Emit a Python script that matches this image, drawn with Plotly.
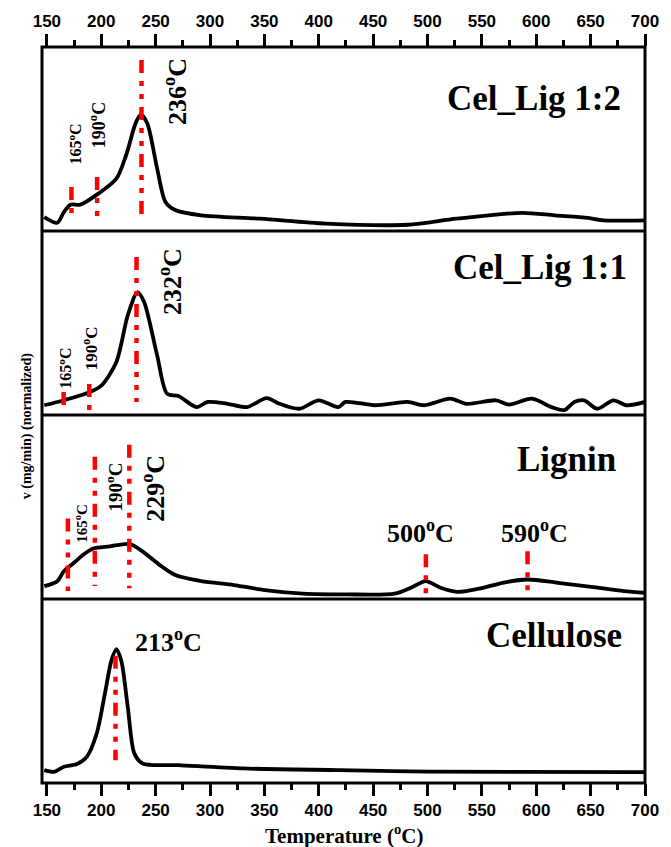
import plotly.graph_objects as go

# ---------------- data (normalized rate, each panel 0..1) ----------------
t_1_2 = [147.6, 159.6, 165.6, 171.7, 180.7, 197.3, 213.9, 222.9, 232.0, 236.6, 242.4, 251.4,
         259.0, 268.0, 292.0, 346.0, 406.5, 481.5, 526.7, 587.0, 617.0, 647.5, 662.0, 700.0]
v_1_2 = [0.076, 0.045, 0.103, 0.143, 0.143, 0.203, 0.284, 0.413, 0.592, 0.632, 0.583, 0.339,
         0.158, 0.114, 0.085, 0.067, 0.040, 0.034, 0.067, 0.099, 0.085, 0.071, 0.058, 0.058]

t_1_1 = [147.6, 165.6, 189.7, 200.3, 213.9, 224.4, 233.4, 239.4, 251.4, 260.5, 271.0, 287.6,
         298.0, 316.0, 334.0, 352.0, 364.0, 382.0, 400.0, 418.0, 424.6, 451.7, 481.5, 497.0,
         521.0, 536.0, 563.0, 575.0, 596.0, 614.0, 626.0, 635.0, 644.0, 656.0, 671.0, 683.0, 700.0]
v_1_1 = [0.053, 0.080, 0.125, 0.161, 0.288, 0.542, 0.668, 0.614, 0.324, 0.116, 0.103, 0.043,
         0.071, 0.061, 0.043, 0.092, 0.061, 0.034, 0.080, 0.043, 0.071, 0.053, 0.071, 0.053,
         0.089, 0.061, 0.080, 0.056, 0.089, 0.043, 0.027, 0.071, 0.080, 0.034, 0.080, 0.053, 0.071]

t_lig = [147.6, 159.6, 165.6, 174.7, 183.7, 192.7, 207.8, 225.9, 237.9, 253.0, 268.0, 292.0,
         322.0, 352.4, 385.5, 424.6, 469.8, 484.8, 498.4, 512.0, 527.0, 551.0, 569.0, 591.8,
         620.0, 650.6, 680.7, 700.0]
v_lig = [0.070, 0.097, 0.151, 0.196, 0.242, 0.274, 0.286, 0.299, 0.259, 0.188, 0.130, 0.097,
         0.076, 0.047, 0.029, 0.025, 0.029, 0.061, 0.097, 0.061, 0.039, 0.061, 0.088, 0.106,
         0.088, 0.066, 0.043, 0.034]

t_cel = [147.6, 156.6, 165.6, 177.7, 186.7, 195.8, 203.3, 209.3, 213.9, 218.4, 224.4, 230.4,
         238.0, 271.0, 331.0, 418.6, 500.0, 700.0]
v_cel = [0.070, 0.061, 0.088, 0.103, 0.142, 0.269, 0.485, 0.665, 0.728, 0.665, 0.412, 0.161,
         0.106, 0.097, 0.079, 0.070, 0.062, 0.059]

panel_names = ["Cel_Lig 1:2", "Cel_Lig 1:1", "Lignin", "Cellulose"]
panel_t = [t_1_2, t_1_1, t_lig, t_cel]
panel_v = [v_1_2, v_1_1, v_lig, v_cel]

# red marker lines: panel index, temperature, low/high ends
mark_panel = [0, 0, 0, 1, 1, 1, 2, 2, 2, 2, 2, 3]
mark_t = [172.6, 196.2, 237.0, 165.4, 189.0, 232.4, 169.3, 194.1, 225.8, 498.5, 592.0, 213.1]
mark_lo = [0.060, 0.038, 0.060, 0.016, 0.0, 0.071, 0.043, 0.070, 0.059, 0.0, 0.005, 0.124]
mark_hi = [0.239, 0.293, 0.929, 0.125, 0.168, 0.859, 0.438, 0.773, 0.838, 0.243, 0.259, 0.692]

# peak labels
lab_panel = [0, 0, 0, 1, 1, 1, 2, 2, 2, 2, 2, 3]
lab_text = ["165", "190", "236", "165", "190", "232", "165", "190", "229", "500", "590", "213"]
lab_t = [175.4, 196.2, 268.7, 166.3, 189.9, 263.2, 181.7, 211.6, 247.8, 493.3, 598.4, 261.4]
lab_y = [0.473, 0.576, 0.761, 0.255, 0.364, 0.728, 0.411, 0.611, 0.60, 0.368, 0.368, 0.773]
lab_size = [16, 18, 26, 16, 17, 26, 15, 19, 26, 26, 26, 26]
lab_angle = [-90, -90, -90, -90, -90, -90, -90, -90, -90, 0, 0, 0]

# panel name positions (right edge)
name_t = [679.9, 685.3, 675.4, 680.8]
name_y = [0.72, 0.80, 0.76, 0.80]

x_ticks = [150, 200, 250, 300, 350, 400, 450, 500, 550, 600, 650, 700]

# ---------------- figure ----------------
SERIF = "Liberation Serif, Times New Roman, serif"
SANS = "Liberation Sans, Arial, sans-serif"
fig = go.Figure()
domains = [[0.75, 1.0], [0.5, 0.75], [0.25, 0.5], [0.0, 0.25]]
XR = [145.5, 700]

for i in range(4):
    sfx = "" if i == 0 else str(i + 1)
    xa, ya = "x" + sfx, "y" + sfx
    fig.add_trace(go.Scatter(x=panel_t[i], y=panel_v[i], mode="lines", xaxis=xa, yaxis=ya,
                             line=dict(color="black", width=3.8, shape="spline", smoothing=0.8),
                             showlegend=False, hoverinfo="skip"))
    ax = dict(domain=[0, 1], range=XR, anchor=ya, showline=False, showgrid=False, zeroline=False,
              tickvals=x_ticks, ticktext=[str(v) for v in x_ticks])
    if i in (0, 3):
        ax.update(side="top" if i == 0 else "bottom", ticks="outside", ticklen=12, tickwidth=3,
                  tickcolor="black", showticklabels=True,
                  tickfont=dict(family=SANS, size=17, color="black", weight="bold"),
                  minor=dict(ticks="outside", ticklen=6, tickwidth=3, tickcolor="black",
                             dtick=25, tick0=150))
    else:
        ax.update(ticks="", showticklabels=False)
    if i > 0:
        ax["matches"] = "x"
    fig.update_layout({("xaxis" + sfx): ax,
                       ("yaxis" + sfx): dict(domain=domains[i], range=[0, 1], anchor=xa,
                                             showline=False, showgrid=False, zeroline=False,
                                             ticks="", showticklabels=False, fixedrange=True)})
    fig.add_annotation(x=name_t[i], y=name_y[i], xref=xa, yref=ya, text="<b>%s</b>" % panel_names[i],
                       showarrow=False, xanchor="right", yanchor="middle",
                       font=dict(family=SERIF, size=35, color="black"))

for k in range(len(mark_t)):
    p = mark_panel[k]
    sfx = "" if p == 0 else str(p + 1)
    fig.add_trace(go.Scatter(x=[mark_t[k], mark_t[k]], y=[mark_hi[k], mark_lo[k]], mode="lines",
                             xaxis="x" + sfx, yaxis="y" + sfx,
                             line=dict(color="#ff0000", width=4.5, dash="13px,8px,5px,8px,5px,8px"),
                             showlegend=False, hoverinfo="skip"))

for k in range(len(lab_t)):
    p = lab_panel[k]
    sfx = "" if p == 0 else str(p + 1)
    fig.add_annotation(x=lab_t[k], y=lab_y[k], xref="x" + sfx, yref="y" + sfx,
                       text="<b>%s<sup>o</sup>C</b>" % lab_text[k], showarrow=False,
                       textangle=lab_angle[k], xanchor="center", yanchor="middle",
                       font=dict(family=SERIF, size=lab_size[k], color="black"))

# frame and panel separators
fig.add_shape(type="rect", xref="paper", yref="paper", x0=0, x1=1, y0=0, y1=1,
              line=dict(color="black", width=3), layer="above")
for yb in [0.25, 0.5, 0.75]:
    fig.add_shape(type="line", xref="paper", yref="paper", x0=0, x1=1, y0=yb, y1=yb,
                  line=dict(color="black", width=3), layer="above")

fig.add_annotation(x=0.5, y=-0.070, xref="paper", yref="paper", text="<b>Temperature (<sup>o</sup>C)</b>",
                   showarrow=False, xanchor="center", yanchor="middle",
                   font=dict(family=SERIF, size=21, color="black"))
fig.add_annotation(x=-0.025, y=0.486, xref="paper", yref="paper", text="<b>v (mg/min) (normalized)</b>",
                   showarrow=False, textangle=-90, xanchor="center", yanchor="middle",
                   font=dict(family=SERIF, size=14, color="black"))

fig.update_layout(width=671, height=847, margin=dict(l=42, r=17, t=43, b=64),
                  plot_bgcolor="white", paper_bgcolor="white", showlegend=False)
fig.write_html("out.html")
